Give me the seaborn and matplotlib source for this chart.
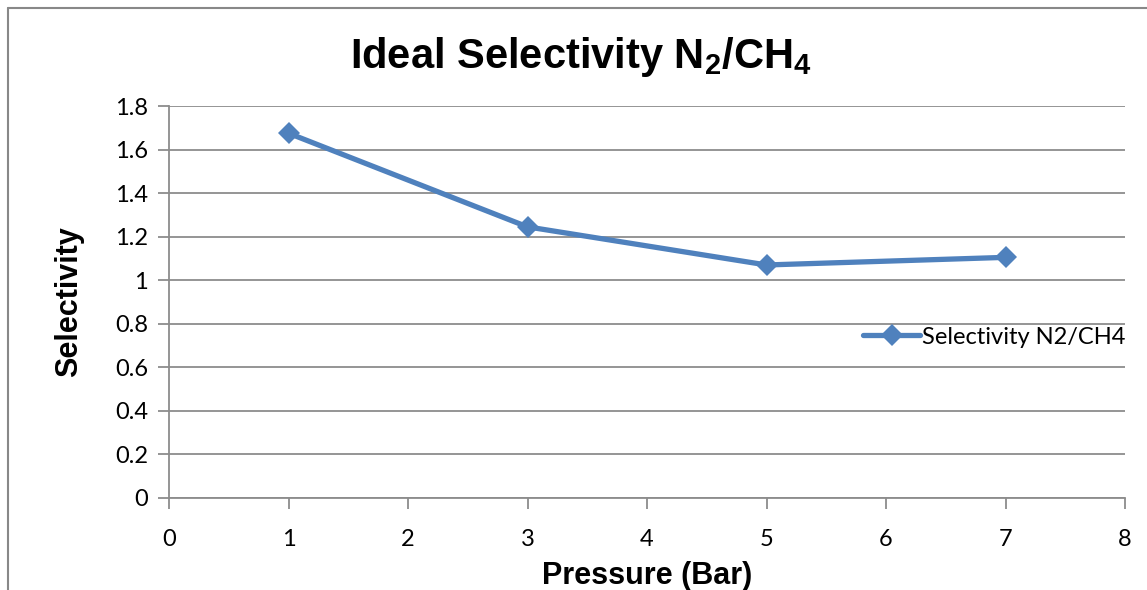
import matplotlib
matplotlib.use("Agg")
import matplotlib.pyplot as plt
import seaborn as sns
import pandas as pd
from matplotlib.lines import Line2D
from matplotlib.ticker import FuncFormatter

pressure = [1, 3, 5, 7]
selectivity = [1.675, 1.245, 1.07, 1.105]
series_name = "Selectivity N2/CH4"
x_ticks = [0, 1, 2, 3, 4, 5, 6, 7, 8]
y_ticks = [0, 0.2, 0.4, 0.6, 0.8, 1.0, 1.2, 1.4, 1.6, 1.8]

sns.set_theme(style="white")
plt.rcParams["font.family"] = ["Lato", "DejaVu Sans"]
plt.rcParams["text.color"] = "black"
plt.rcParams["axes.labelcolor"] = "black"
plt.rcParams["mathtext.fontset"] = "custom"
plt.rcParams["mathtext.rm"] = "Liberation Sans:bold"
plt.rcParams["mathtext.default"] = "rm"

df = pd.DataFrame({"Pressure": pressure, "Selectivity": selectivity, "Series": series_name})

fig = plt.figure(figsize=(11.47, 5.90), dpi=100)
ax = fig.add_axes([169/1147, 1-498/590, (1125-169)/1147, (498-106)/590])

blue = "#4F81BD"
sns.lineplot(data=df, x="Pressure", y="Selectivity", hue="Series", palette=[blue],
             marker="D", markersize=11, linewidth=3.8, markeredgewidth=0, ax=ax, zorder=3)

ax.set_xlim(0, 8)
ax.set_ylim(0, 1.8)
ax.set_xticks(x_ticks)
ax.set_yticks(y_ticks)
fmt = FuncFormatter(lambda v, p: f"{v:g}")
ax.xaxis.set_major_formatter(fmt)
ax.yaxis.set_major_formatter(fmt)

grid_c = "#8C8C8C"
ax.grid(axis="y", color=grid_c, linewidth=1.3)
ax.grid(axis="x", visible=False)
for s in ["top", "right"]:
    ax.spines[s].set_visible(False)
for s in ["left", "bottom"]:
    ax.spines[s].set_color(grid_c)
    ax.spines[s].set_linewidth(1.3)
ax.tick_params(axis="both", which="major", length=8, width=1.3, color=grid_c,
               labelsize=17, labelcolor="black", direction="out", left=True, bottom=True)
ax.tick_params(axis="x", pad=14)
ax.tick_params(axis="y", pad=7)

ax.set_xlabel("Pressure (Bar)", fontsize=22, fontweight="bold", family="Liberation Sans",
              color="black", labelpad=8)
ax.set_ylabel("Selectivity", fontsize=22, fontweight="bold", family="Liberation Sans",
              color="black", labelpad=22)

fig.text(581/1147, 1-57/590, r"Ideal Selectivity N$_2$/CH$_4$", ha="center", va="center",
         fontsize=30, fontweight="bold", family="Liberation Sans", color="black")

leg = ax.legend(loc="center left", bbox_to_anchor=((854-169)/(1125-169), (498-337)/(498-106)),
                frameon=False, fontsize=17, handlelength=2.4, handletextpad=0.1, borderaxespad=0)
for t in leg.get_texts():
    t.set_family(["Lato", "DejaVu Sans"])
    t.set_color("black")

fig.add_artist(Line2D([8/1147, 8/1147], [0, 1-8/590], transform=fig.transFigure, color="#888888", linewidth=1.5))
fig.add_artist(Line2D([8/1147, 1], [1-8/590, 1-8/590], transform=fig.transFigure, color="#888888", linewidth=1.5))

fig.savefig("out.png", dpi=100)
